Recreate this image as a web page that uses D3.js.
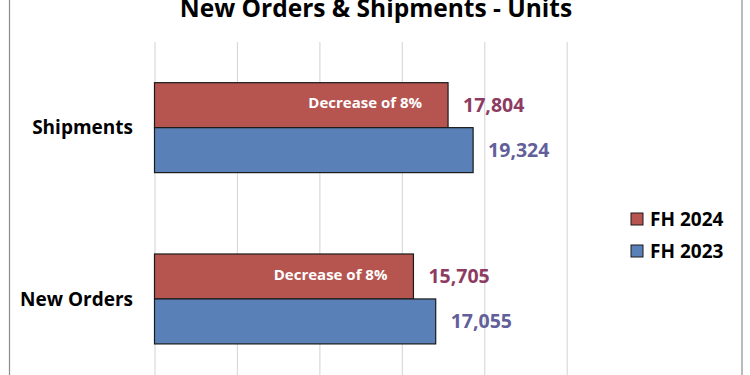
<!DOCTYPE html>
<html>
<head>
<meta charset="utf-8">
<script src="https://cdn.jsdelivr.net/npm/d3@7"></script>
<style>
  body { margin: 0; background: #fff; }
  svg { display: block; font-family: "Open Sans", sans-serif; }
</style>
</head>
<body>
<script>
const categories = ["Shipments", "New Orders"];
const seriesNames = ["FH 2024", "FH 2023"];
const fh2024 = [17804, 15705];
const fh2023 = [19324, 17055];
const innerLabels = ["Decrease of 8%", "Decrease of 8%"];
const xTicks = [0, 5000, 10000, 15000, 20000, 25000];

const width = 750;
const height = 375;
const colors = ["#b65550", "#5a80b8"];
const labelColors = ["#8e3b62", "#625f9a"];

const rows = categories.map((c, i) => ({
  cat: c,
  vals: [
    { s: seriesNames[0], v: fh2024[i], idx: 0 },
    { s: seriesNames[1], v: fh2023[i], idx: 1 }
  ],
  inner: innerLabels[i]
}));

const svg = d3.select("body").append("svg")
  .attr("width", width)
  .attr("height", height);

// outer chart border (top and bottom run past the picture)
svg.append("rect")
  .attr("x", 9.5).attr("y", -20)
  .attr("width", 732.5).attr("height", height + 40)
  .attr("fill", "none")
  .attr("stroke", "#8c8c8c")
  .attr("stroke-width", 1.2);

svg.append("text")
  .attr("x", 376)
  .attr("y", 17)
  .attr("text-anchor", "middle")
  .style("font-size", "24.5px")
  .style("font-weight", "bold")
  .text("New Orders & Shipments - Units");

const x = d3.scaleLinear()
  .domain([0, 25000])
  .range([154.5, 566.7]);

const y = d3.scaleBand()
  .domain(categories)
  .range([42, 384.6])
  .paddingInner(0.475)
  .paddingOuter(0.2375);

const ySub = d3.scaleBand()
  .domain(seriesNames)
  .range([0, y.bandwidth()]);

// gridlines
svg.append("g")
  .attr("transform", "translate(0,42)")
  .call(d3.axisTop(x).tickValues(xTicks).tickSize(-(384.6 - 42)).tickFormat(""))
  .call(g => g.select(".domain").remove())
  .selectAll("line")
    .attr("stroke", "#d9d9d9")
    .attr("stroke-width", 1.2);

// category labels
svg.append("g")
  .selectAll("text")
  .data(categories)
  .join("text")
    .attr("x", 133)
    .attr("y", d => y(d) + y.bandwidth() / 2)
    .attr("dy", "0.35em")
    .attr("text-anchor", "end")
    .style("font-size", "19px")
    .style("font-weight", "bold")
    .text(d => d);

const groups = svg.selectAll(".grp")
  .data(rows)
  .join("g")
    .attr("class", "grp")
    .attr("transform", d => `translate(0,${y(d.cat)})`);

groups.selectAll("rect")
  .data(d => d.vals)
  .join("rect")
    .attr("x", x(0))
    .attr("y", d => ySub(d.s))
    .attr("width", d => x(d.v) - x(0))
    .attr("height", ySub.bandwidth())
    .attr("fill", d => colors[d.idx])
    .attr("stroke", "#1a1a1a")
    .attr("stroke-width", 1.2);

groups.selectAll(".val")
  .data(d => d.vals)
  .join("text")
    .attr("class", "val")
    .attr("x", d => x(d.v) + 15)
    .attr("y", d => ySub(d.s) + ySub.bandwidth() / 2)
    .attr("dy", "0.35em")
    .attr("fill", d => labelColors[d.idx])
    .style("font-size", "19.5px")
    .style("font-weight", "bold")
    .text(d => d3.format(",")(d.v));

groups.append("text")
  .attr("x", d => x(d.vals[0].v) - 26)
  .attr("y", ySub.bandwidth() / 2 - 2)
  .attr("dy", "0.35em")
  .attr("text-anchor", "end")
  .attr("fill", "#fff")
  .style("font-size", "15px")
  .style("font-weight", "bold")
  .text(d => d.inner);

// legend
const legend = svg.append("g")
  .attr("transform", "translate(631,213)");

const li = legend.selectAll("g")
  .data(seriesNames)
  .join("g")
    .attr("transform", (d, i) => `translate(0,${i * 32})`);

li.append("rect")
  .attr("width", 12).attr("height", 12)
  .attr("fill", (d, i) => colors[i])
  .attr("stroke", "#1a1a1a")
  .attr("stroke-width", 1);

li.append("text")
  .attr("x", 19)
  .attr("y", 6)
  .attr("dy", "0.35em")
  .style("font-size", "19px")
  .style("font-weight", "bold")
  .text(d => d);
</script>
</body>
</html>
